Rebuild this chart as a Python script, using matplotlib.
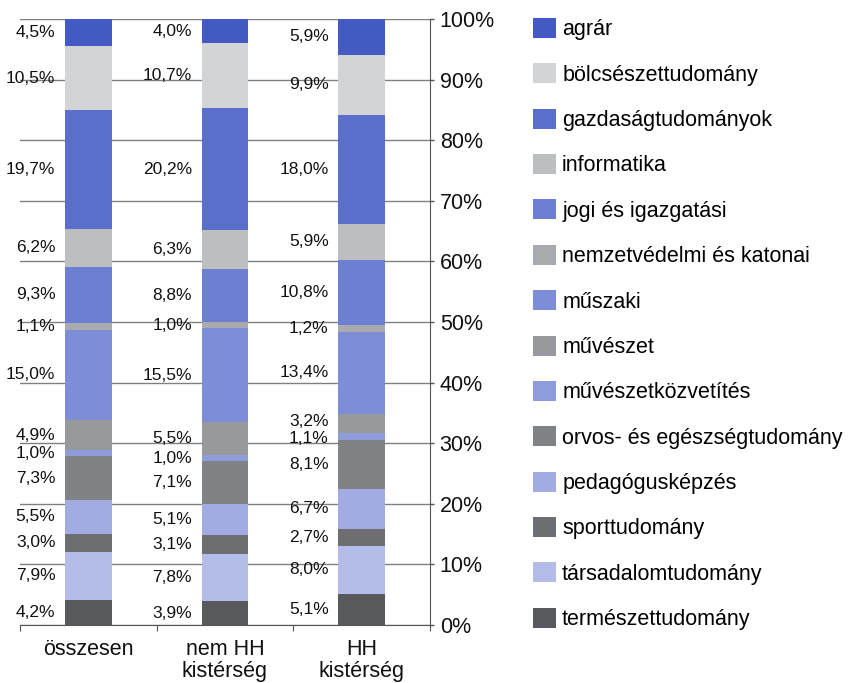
import numpy as np
import matplotlib
matplotlib.use("Agg")
import matplotlib.pyplot as plt
from matplotlib.patches import Patch

plt.rcParams['font.family'] = ['Liberation Sans', 'DejaVu Sans']

categories = ["összesen", "nem HH\nkistérség", "HH\nkistérség"]
fields = ["agrár", "bölcsészettudomány", "gazdaságtudományok", "informatika",
          "jogi és igazgatási", "nemzetvédelmi és katonai", "műszaki", "művészet",
          "művészetközvetítés", "orvos- és egészségtudomány", "pedagógusképzés",
          "sporttudomány", "társadalomtudomány", "természettudomány"]
colors = ["#4359C4", "#D3D4D6", "#5A6ECB", "#BDBEC0", "#6D7FD2", "#A9AAAD",
          "#7E8DD7", "#98999D", "#8F9CDC", "#818286", "#A2ACE3", "#6D6E72",
          "#B4BCEA", "#58595C"]
osszesen = [4.5, 10.5, 19.7, 6.2, 9.3, 1.1, 15.0, 4.9, 1.0, 7.3, 5.5, 3.0, 7.9, 4.2]
nem_hh = [4.0, 10.7, 20.2, 6.3, 8.8, 1.0, 15.5, 5.5, 1.0, 7.1, 5.1, 3.1, 7.8, 3.9]
hh = [5.9, 9.9, 18.0, 5.9, 10.8, 1.2, 13.4, 3.2, 1.1, 8.1, 6.7, 2.7, 8.0, 5.1]

data = np.array([osszesen, nem_hh, hh])  # rows: categories, cols: fields
shares = data / data.sum(axis=1, keepdims=True) * 100

fig = plt.figure(figsize=(8.52, 6.83), dpi=100)
ax = fig.add_axes([20 / 852, 1 - 625 / 683, 410 / 852, 606 / 683])

x = np.arange(len(categories))
width = 0.34
bottom = np.zeros(len(categories))
label_y = np.zeros_like(shares)
# stack from the bottom: last field first
for j in range(len(fields) - 1, -1, -1):
    vals = shares[:, j]
    ax.bar(x, vals, width, bottom=bottom, color=colors[j], zorder=2)
    label_y[:, j] = bottom + vals / 2
    bottom += vals

# push labels apart where small segments sit next to each other
min_gap = 2.8
for i in range(len(categories)):
    ys = label_y[i, ::-1].copy()  # bottom to top
    for k in range(1, len(ys)):
        if ys[k] - ys[k - 1] < min_gap:
            mid = (ys[k] + ys[k - 1]) / 2
            ys[k - 1] = mid - min_gap / 2
            ys[k] = mid + min_gap / 2
    label_y[i, ::-1] = ys

for i in range(len(categories)):
    for j in range(len(fields)):
        ax.annotate(f"{data[i, j]:.1f}%".replace(".", ","),
                    xy=(x[i] - width / 2, label_y[i, j]),
                    xytext=(-7, 0), textcoords="offset points",
                    ha="right", va="center", fontsize=12.5, color="#111111",
                    zorder=3)

ax.set_xlim(-0.5, 2.5)
ax.set_ylim(0, 100)
ax.set_yticks(np.arange(0, 101, 10))
ax.set_yticklabels([f"{v}%" for v in range(0, 101, 10)])
ax.yaxis.tick_right()
ax.tick_params(axis="y", direction="out", length=3, width=1, color="#555555",
               labelsize=15.5, pad=4, labelcolor="#111111")
ax.yaxis.grid(True, color="#808080", linewidth=1, zorder=0)
ax.set_axisbelow(True)

ax.set_xticks([-0.5, 0.5, 1.5, 2.5], minor=False)
ax.set_xticklabels([])
ax.set_xticks(x, minor=True)
ax.set_xticklabels(categories, minor=True, fontsize=15.5, linespacing=1.05,
                   color="#111111")
ax.tick_params(axis="x", which="major", direction="out", length=4, color="#555555")
ax.tick_params(axis="x", which="minor", length=0, pad=10)

for side in ["left", "top"]:
    ax.spines[side].set_visible(False)
ax.spines["right"].set_color("#555555")
ax.spines["bottom"].set_color("#555555")

handles = [Patch(facecolor=c, edgecolor="none") for c in colors]
fig.legend(handles, fields, loc="upper left", bbox_to_anchor=(533 / 852, 1 - 18 / 683),
           frameon=False, fontsize=15.5, borderpad=0, borderaxespad=0,
           handlelength=1.05, handleheight=1.05, handletextpad=0.3,
           labelspacing=1.07)

fig.savefig("out.png", dpi=100)
